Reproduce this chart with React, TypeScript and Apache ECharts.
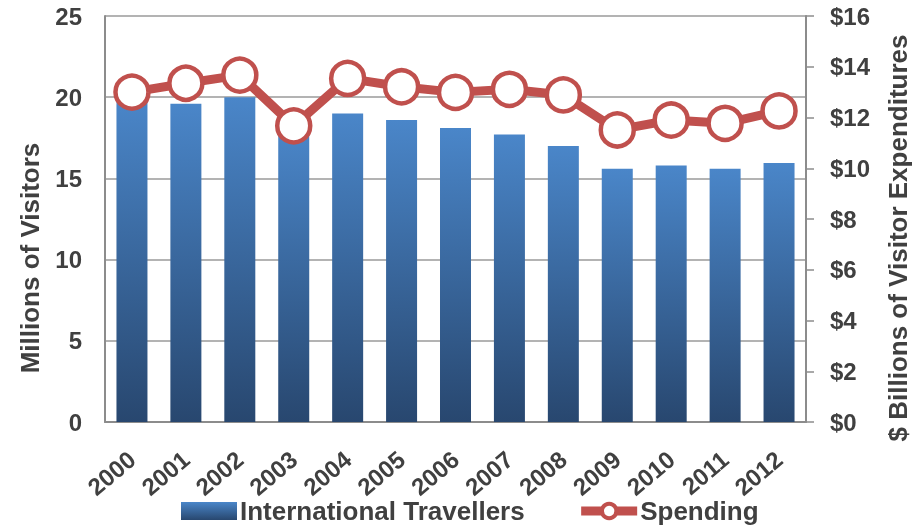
import React, { useEffect, useRef } from "react";
import * as echarts from "echarts";

const years = ["2000", "2001", "2002", "2003", "2004", "2005", "2006", "2007", "2008", "2009", "2010", "2011", "2012"];
const travellers = [19.9, 19.6, 20.0, 18.0, 19.0, 18.6, 18.1, 17.7, 17.0, 15.6, 15.8, 15.6, 15.95];
const spending = [13.0, 13.35, 13.67, 11.67, 13.54, 13.21, 12.99, 13.11, 12.89, 11.51, 11.9, 11.77, 12.26];

const TXT = "#404040";
const RED = "#C0504D";
const FONT = "'Liberation Sans', Arial, sans-serif";

export default function App() {
  const ref = useRef<HTMLDivElement>(null);
  useEffect(() => {
    const chart = echarts.init(ref.current!, null, { renderer: "svg" });
    chart.setOption({
      animation: false,
      textStyle: { fontFamily: FONT },
      grid: { left: 105, right: 112, top: 16, bottom: 107 },
      legend: {
        bottom: 0,
        left: 176,
        itemWidth: 56,
        itemHeight: 18,
        itemGap: 52,
        textStyle: { color: TXT, fontSize: 26, fontWeight: "bold", fontFamily: FONT, padding: [0, 0, 0, -2] },
        data: [
          { name: "International Travellers", icon: "rect" },
          {
            name: "Spending",
            itemStyle: { color: "#ffffff", borderColor: RED, borderWidth: 4 },
            lineStyle: { color: RED, width: 9 },
          },
        ],
      },
      xAxis: {
        type: "category",
        data: years,
        axisLine: { lineStyle: { color: "#8c8c8c", width: 2 } },
        axisTick: { show: false },
        axisLabel: {
          rotate: 40,
          color: TXT,
          fontSize: 24,
          fontWeight: "bold",
          fontFamily: FONT,
          margin: 34,
        },
      },
      yAxis: [
        {
          type: "value",
          min: 0,
          max: 25,
          interval: 5,
          axisLine: { show: true, lineStyle: { color: "#8c8c8c", width: 2 } },
          axisTick: { show: false },
          splitLine: { lineStyle: { color: "#9a9a9a", width: 1.5 } },
          axisLabel: { color: TXT, fontSize: 24, fontWeight: "bold", fontFamily: FONT, margin: 23 },
        },
        {
          type: "value",
          min: 0,
          max: 16,
          interval: 2,
          position: "right",
          axisLine: { show: true, lineStyle: { color: "#8c8c8c", width: 2 } },
          axisTick: { show: true, length: 8, lineStyle: { color: "#8c8c8c", width: 1.5 } },
          splitLine: { show: false },
          axisLabel: {
            color: TXT,
            fontSize: 24,
            fontWeight: "bold",
            fontFamily: FONT,
            margin: 24,
            formatter: (v: number) => "$" + v,
          },
        },
      ],
      graphic: [
        {
          type: "text",
          x: 30,
          y: 258,
          rotation: Math.PI / 2,
          style: {
            text: "Millions of Visitors",
            fill: TXT,
            font: `bold 26px ${FONT}`,
            align: "center",
            verticalAlign: "middle",
          },
        },
        {
          type: "text",
          x: 898,
          y: 238,
          rotation: Math.PI / 2,
          style: {
            text: "$ Billions of Visitor Expenditures",
            fill: TXT,
            font: `bold 26px ${FONT}`,
            align: "center",
            verticalAlign: "middle",
          },
        },
      ],
      series: [
        {
          name: "International Travellers",
          type: "bar",
          yAxisIndex: 0,
          data: travellers,
          barWidth: 31,
          itemStyle: {
            color: new echarts.graphic.LinearGradient(0, 0, 0, 1, [
              { offset: 0, color: "#4A86C9" },
              { offset: 1, color: "#28476F" },
            ]),
          },
        },
        {
          name: "Spending",
          type: "line",
          yAxisIndex: 1,
          data: spending,
          symbol: "circle",
          symbolSize: 33,
          lineStyle: { color: RED, width: 9 },
          itemStyle: { color: "#ffffff", borderColor: RED, borderWidth: 4.5 },
          z: 3,
        },
      ],
    });
    return () => chart.dispose();
  }, []);
  return <div ref={ref} style={{ position: "fixed", left: 0, top: 0, width: 918, height: 529 }} />;
}
